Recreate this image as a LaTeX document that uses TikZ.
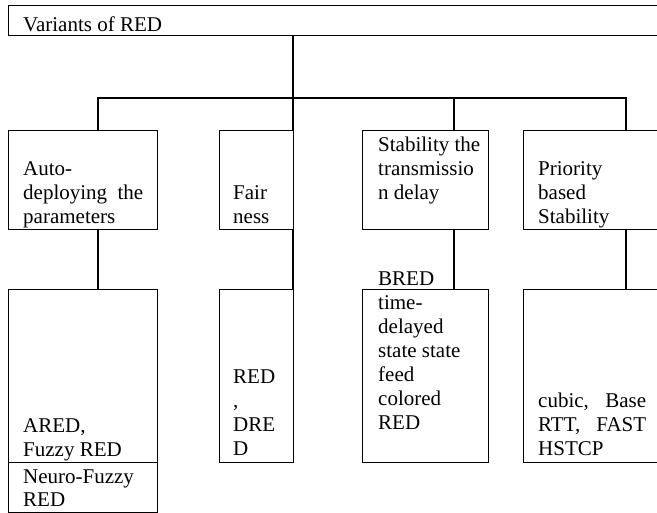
\documentclass[tikz,border=0pt]{standalone}
\usepackage{fontspec}
\setmainfont{Liberation Serif}
\newcommand\blk[1]{\parbox[t]{220pt}{\fontsize{21}{24}\selectfont\raggedright #1}}
\newcommand\jline[2]{\leavevmode\hbox to #1{#2}}
\begin{document}
\begin{tikzpicture}[x=1pt,y=-1pt,
  box/.style={draw, line width=1.2pt, rectangle, inner sep=0pt, anchor=north west},
  txt/.style={inner sep=0pt, anchor=base west, font=\fontsize{21}{24}\selectfont},
  link/.style={line width=1.2pt},
  bus/.style={line width=2.6pt}]
\useasboundingbox (0,0) rectangle (657,513);
% boxes
\node[box, minimum width=700pt, minimum height=30pt] (top) at (8,5) {};
\node[box, minimum width=149pt, minimum height=99pt] (A) at (8,130) {};
\node[box, minimum width=74pt,  minimum height=99pt] (B) at (219,130) {};
\node[box, minimum width=126pt, minimum height=99pt] (C) at (362,130) {};
\node[box, minimum width=200pt, minimum height=99pt] (D) at (523,130) {};
\node[box, minimum width=149pt, minimum height=173pt] (A2) at (8,289) {};
\node[box, minimum width=149pt, minimum height=50pt] (A3) at (8,462) {};
\node[box, minimum width=74pt,  minimum height=173pt] (B2) at (219,289) {};
\node[box, minimum width=126pt, minimum height=173pt] (C2) at (362,289) {};
\node[box, minimum width=200pt, minimum height=173pt] (D2) at (523,289) {};
% connectors
\coordinate (xA) at (98,98);
\coordinate (xB) at (293,98);
\coordinate (xC) at (454,98);
\coordinate (xD) at (626,98);
\draw[link] (top.south -| xB) -- (xB);
\draw[bus] ([xshift=-1pt]xA) -- ([xshift=1pt]xD);
\foreach \n in {A,B,C,D}{
  \draw[link] (x\n) -- (\n.north -| x\n);
  \draw[link] (\n.south -| x\n) -- (\n2.north -| x\n);
}
% texts
\node[txt] (ttop) at (23,32) {Variants of RED};
\node[txt] (tA) at (23,176) {\blk{Auto-\\\jline{120pt}{deploying\hfill the}\\parameters}};
\node[txt] (tB) at (233,200) {\blk{Fair\\ness}};
\node[txt] (tC) at (378,152) {\blk{Stability the\\transmissio\\n delay}};
\node[txt] (tD) at (538,176) {\blk{Priority\\based\\Stability}};
\node[txt] (tA2) at (23,433) {\blk{ARED,\\Fuzzy RED}};
\node[txt] (tA3) at (23,483) {\blk{Neuro-Fuzzy\\RED}};
\node[txt] (tB2) at (233,384) {\blk{RED\\,\\DRE\\D}};
\node[txt] (tC2) at (378,286) {\blk{BRED\\time-\\delayed\\state state\\feed\\colored\\RED}};
\node[txt] (tD2) at (538,408) {\blk{\jline{108pt}{cubic,\hfill Base}\\\jline{108pt}{RTT,\hfill FAST}\\HSTCP}};
\end{tikzpicture}
\end{document}
